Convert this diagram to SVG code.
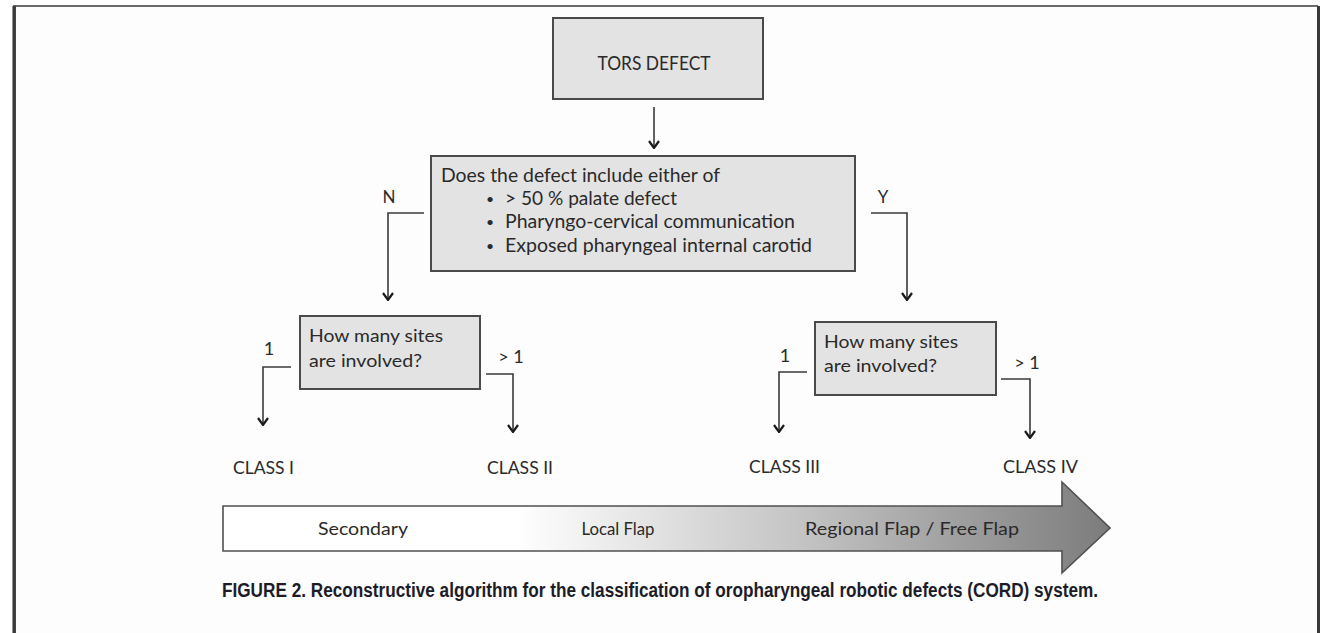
<svg xmlns="http://www.w3.org/2000/svg" width="1320" height="633" viewBox="0 0 1320 633">
<style>
.box{fill:#e3e3e3;stroke:#4a4a4a;stroke-width:2}
.t{font-family:Lato,"Open Sans","Liberation Sans",sans-serif;fill:#2a2a2a}
.c{fill:none;stroke:#3a3a3a;stroke-width:1.6;marker-end:url(#ah)}
.cap{font-family:"Liberation Sans",Arial,sans-serif;font-weight:bold;fill:#1c1c28}
</style>
<defs>
<marker id="ah" viewBox="0 0 12 12" refX="11" refY="6" markerWidth="12" markerHeight="12" markerUnits="userSpaceOnUse" orient="auto">
<path d="M4,1 L11,6 L4,11" fill="none" stroke="#1a1a1a" stroke-width="2.2"/>
</marker>
<linearGradient id="g" gradientUnits="userSpaceOnUse" x1="223" y1="0" x2="1110" y2="0">
<stop offset="0" stop-color="#ffffff"/>
<stop offset="0.33" stop-color="#ffffff"/>
<stop offset="0.65" stop-color="#c4c4c4"/>
<stop offset="1" stop-color="#7c7c7c"/>
</linearGradient>
</defs>
<rect x="0" y="0" width="1320" height="633" fill="#ffffff"/>
<g id="frame">
<rect x="16" y="6" width="1301" height="627" fill="#fdfdfd"/>
<line x1="13" y1="6" x2="1318" y2="6" stroke="#3a3a3a" stroke-width="1.5"/>
<line x1="14.2" y1="6" x2="14.2" y2="633" stroke="#3a3a3a" stroke-width="3.5"/>
<line x1="1318.5" y1="6" x2="1318.5" y2="633" stroke="#3a3a3a" stroke-width="3"/>
</g>
<g id="connectors">
<line class="c" x1="654" y1="107" x2="654" y2="148"/>
<polyline class="c" points="424,213 388,213 388,300"/>
<polyline class="c" points="871,213 907,213 907,300"/>
<polyline class="c" points="291,367 263,367 263,425"/>
<polyline class="c" points="486,374 513,374 513,432"/>
<polyline class="c" points="807,372 779,372 779,432"/>
<polyline class="c" points="1001,379 1030,379 1030,438"/>
<text class="t" x="389" y="203" font-size="17" text-anchor="middle">N</text>
<text class="t" x="883" y="203" font-size="17" text-anchor="middle">Y</text>
<text class="t" x="269" y="355" font-size="18" text-anchor="middle">1</text>
<text class="t" x="511" y="363" font-size="18" text-anchor="middle">&gt; 1</text>
<text class="t" x="785" y="362" font-size="18" text-anchor="middle">1</text>
<text class="t" x="1027" y="369" font-size="18" text-anchor="middle">&gt; 1</text>
</g>
<g id="tors">
<rect class="box" x="553" y="18" width="210" height="81"/>
<text class="t" x="654" y="70" font-size="18.5" text-anchor="middle" textLength="113" lengthAdjust="spacingAndGlyphs">TORS DEFECT</text>
</g>
<g id="question">
<rect class="box" x="431" y="156" width="424" height="115"/>
<text class="t" x="441" y="182" font-size="19.5" textLength="279" lengthAdjust="spacingAndGlyphs">Does the defect include either of</text>
<text class="t" x="486" y="204" font-size="14">•</text>
<text class="t" x="505" y="205" font-size="19.5" textLength="172" lengthAdjust="spacingAndGlyphs">&gt; 50 % palate defect</text>
<text class="t" x="486" y="227" font-size="14">•</text>
<text class="t" x="505" y="228" font-size="19.5" textLength="290" lengthAdjust="spacingAndGlyphs">Pharyngo-cervical communication</text>
<text class="t" x="486" y="251" font-size="14">•</text>
<text class="t" x="505" y="252" font-size="19.5" textLength="307" lengthAdjust="spacingAndGlyphs">Exposed pharyngeal internal carotid</text>
</g>
<g id="sitesN">
<rect class="box" x="300" y="316" width="180" height="73"/>
<text class="t" x="309" y="342" font-size="18" textLength="134" lengthAdjust="spacingAndGlyphs">How many sites</text>
<text class="t" x="309" y="367" font-size="18" textLength="113" lengthAdjust="spacingAndGlyphs">are involved?</text>
</g>
<g id="sitesY">
<rect class="box" x="815" y="322" width="181" height="73"/>
<text class="t" x="824" y="348" font-size="18" textLength="134" lengthAdjust="spacingAndGlyphs">How many sites</text>
<text class="t" x="824" y="372" font-size="18" textLength="113" lengthAdjust="spacingAndGlyphs">are involved?</text>
</g>
<g id="classes">
<text class="t" x="233" y="474" font-size="17.5" textLength="61" lengthAdjust="spacingAndGlyphs">CLASS I</text>
<text class="t" x="487" y="474" font-size="17.5" textLength="66" lengthAdjust="spacingAndGlyphs">CLASS II</text>
<text class="t" x="749" y="473" font-size="17.5" textLength="71" lengthAdjust="spacingAndGlyphs">CLASS III</text>
<text class="t" x="1003" y="473" font-size="17.5" textLength="75" lengthAdjust="spacingAndGlyphs">CLASS IV</text>
</g>
<g id="scale">
<path d="M223,506 H1062 V482 L1110,528 L1062,573 V551 H223 Z" fill="url(#g)" stroke="#505050" stroke-width="1.6"/>
<text class="t" x="363" y="535" font-size="17.5" text-anchor="middle" textLength="90" lengthAdjust="spacingAndGlyphs">Secondary</text>
<text class="t" x="618" y="535" font-size="17.5" text-anchor="middle" textLength="73" lengthAdjust="spacingAndGlyphs">Local Flap</text>
<text class="t" x="912" y="535" font-size="17.5" text-anchor="middle" textLength="214" lengthAdjust="spacingAndGlyphs">Regional  Flap / Free Flap</text>
</g>
<text class="cap" x="222" y="597" font-size="20" textLength="876" lengthAdjust="spacingAndGlyphs">FIGURE 2. Reconstructive algorithm for the classification of oropharyngeal robotic defects (CORD) system.</text>
</svg>
